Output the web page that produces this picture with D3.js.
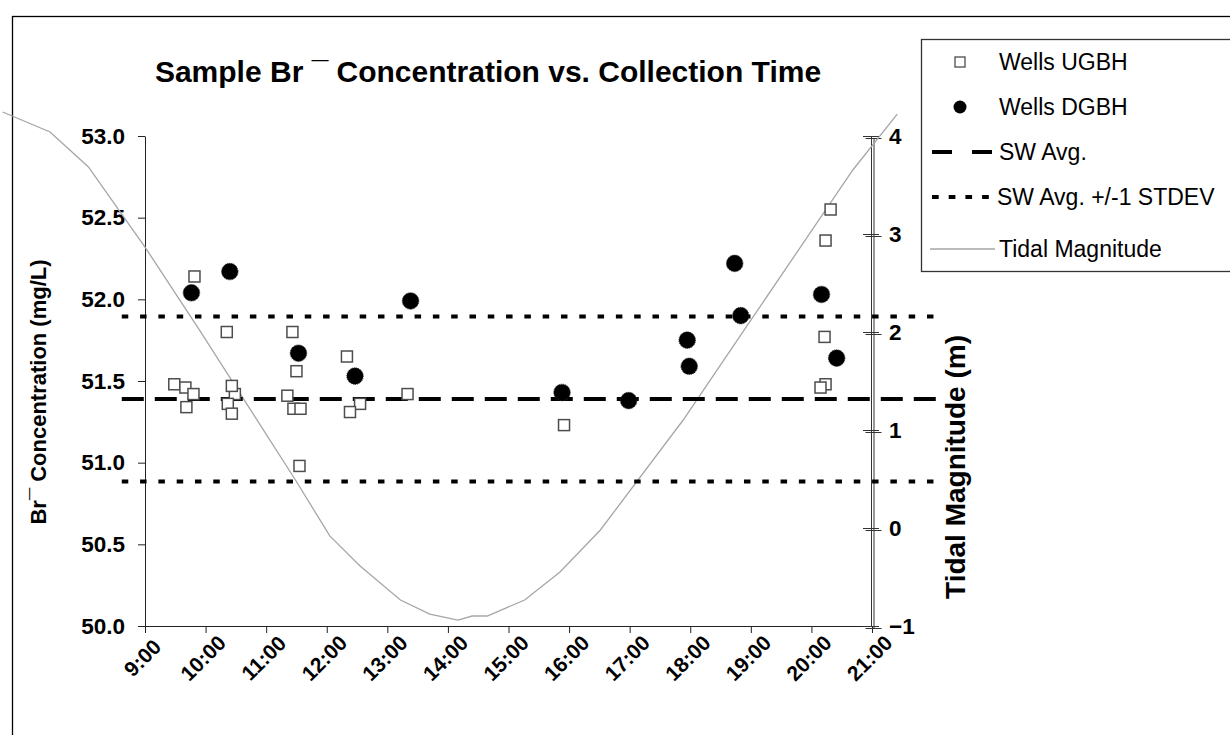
<!DOCTYPE html>
<html><head><meta charset="utf-8">
<script src="https://cdn.jsdelivr.net/npm/d3@7"></script>
<style>
body{margin:0;background:#fff}
svg{display:block}
text{font-family:"Liberation Sans",Arial,Helvetica,sans-serif}
</style>
</head><body>
<svg id="chart" width="1230" height="735"></svg>
<script>
// ---------------- data ----------------
const timeTicks = ["9:00","10:00","11:00","12:00","13:00","14:00","15:00","16:00","17:00","18:00","19:00","20:00","21:00"];
const brTicks = [50.0, 50.5, 51.0, 51.5, 52.0, 52.5, 53.0];
const tideTicks = [-1, 0, 1, 2, 3, 4];

const ugbhTimes  = ["9:29","9:40","9:48","9:41","9:49","10:21","10:29","10:22","10:26","10:26","11:26","11:30","11:21","11:27","11:34","11:33","12:20","12:33","12:23","13:20","15:55","20:19","20:14","20:13","20:14","20:09"];
const ugbhValues = [51.48, 51.46, 51.42, 51.34, 52.14, 51.80, 51.42, 51.36, 51.47, 51.30, 51.80, 51.56, 51.41, 51.33, 51.33, 50.98, 51.65, 51.36, 51.31, 51.42, 51.23, 52.55, 52.36, 51.77, 51.48, 51.46];

const dgbhTimes  = ["9:46","10:24","11:32","12:28","13:23","15:53","16:59","17:57","17:59","18:44","18:50","20:10","20:25"];
const dgbhValues = [52.04, 52.17, 51.67, 51.53, 51.99, 51.43, 51.38, 51.75, 51.59, 52.22, 51.90, 52.03, 51.64];

const swTimes = ["8:37","22:07"];
const swAvgValue = 51.39;
const swUpperValue = 51.895;
const swLowerValue = 50.885;

const tideTimes  = ["6:39","7:26","8:04","8:27","9:00","9:54","10:49","11:29","12:03","12:33","13:13","13:42","14:10","14:24","14:39","15:16","15:51","16:31","17:53","18:59","20:41","21:25"];
const tideValues = [4.245, 4.041, 3.684, 3.347, 2.867, 2.02, 1.133, 0.49, -0.08, -0.388, -0.735, -0.878, -0.939, -0.898, -0.898, -0.735, -0.449, -0.02, 1.102, 2.105, 3.653, 4.224];

const legendLabels = ["Wells UGBH","Wells DGBH","SW Avg.","SW Avg. +/-1 STDEV","Tidal Magnitude"];

// ---------------- helpers ----------------
const toHours = s => { const [h,m] = s.split(":").map(Number); return h + m/60; };
const FONT = '"Liberation Sans",Arial,sans-serif';

const svg = d3.select("#chart");

// scales
const x = d3.scaleLinear().domain([9, 21]).range([145, 872]);
const yL = d3.scaleLinear().domain([50, 53]).range([626, 136]);
const yR = d3.scaleLinear().domain([-1, 4]).range([626, 136]);

// chart border
svg.append("rect").attr("x", 12.5).attr("y", 16.5).attr("width", 1240).attr("height", 740)
  .attr("fill", "none").attr("stroke", "#000").attr("stroke-width", 1.3);

// title
svg.append("text").attr("x", 488).attr("y", 82).attr("text-anchor", "middle")
  .attr("font-size", 30).attr("font-weight", "bold").attr("fill", "#000")
  .text("Sample Br ¯ Concentration vs. Collection Time");

// ---------- axes ----------
const axisColor = "#222";
// left axis
const gL = svg.append("g").attr("transform", "translate(145,0)")
  .call(d3.axisLeft(yL).tickValues(brTicks).tickSize(7).tickSizeOuter(0).tickPadding(13).tickFormat(d3.format(".1f")));
gL.select(".domain").attr("stroke", axisColor);
gL.selectAll(".tick line").attr("stroke", axisColor);
gL.selectAll(".tick text").attr("font-size", 22.5).attr("font-weight", "bold").attr("font-family", FONT).attr("fill", "#000");

// bottom axis
const gB = svg.append("g").attr("transform", "translate(0,626)")
  .call(d3.axisBottom(x).tickValues(timeTicks.map(toHours)).tickSize(7).tickSizeOuter(0)
        .tickFormat((d, i) => timeTicks[i]));
gB.select(".domain").attr("stroke", axisColor);
gB.selectAll(".tick line").attr("stroke", axisColor);
gB.selectAll(".tick text").attr("font-size", 21).attr("font-weight", "bold").attr("font-family", FONT).attr("fill", "#000")
  .attr("text-anchor", "middle").attr("dy", "0.35em").attr("y", 0)
  .attr("transform", "translate(-3,32) rotate(-45)");

// right axis (double-drawn)
[[871, 0], [873.5, 2]].forEach(([tx, ty], k) => {
  const g = svg.append("g").attr("transform", `translate(${tx},${ty})`)
    .call(d3.axisRight(yR).tickValues(tideTicks).tickSize(8).tickSizeOuter(0).tickPadding(10).tickFormat(d3.format("d")));
  g.select(".domain").attr("stroke", "#333").attr("stroke-width", 1);
  g.selectAll(".tick line").attr("x1", -8).attr("x2", 8).attr("stroke", "#333");
  g.selectAll(".tick text").attr("font-size", 22.5).attr("font-weight", "bold").attr("font-family", FONT).attr("fill", "#000")
    .attr("opacity", k === 0 ? 1 : 0);
});

// axis titles
svg.append("text").attr("transform", "translate(46,392) rotate(-90)").attr("text-anchor", "middle")
  .attr("font-size", 22).attr("font-weight", "bold").attr("fill", "#000")
  .text("Br¯ Concentration (mg/L)");
svg.append("text").attr("transform", "translate(965,467) rotate(-90)").attr("text-anchor", "middle")
  .attr("font-size", 28).attr("font-weight", "bold").attr("fill", "#000")
  .text("Tidal Magnitude (m)");

// ---------- tidal line ----------
const tide = tideTimes.map((t, i) => ({ t: toHours(t), v: tideValues[i] }));
svg.append("path").datum(tide)
  .attr("fill", "none").attr("stroke", "#a6a6a6").attr("stroke-width", 1.3)
  .attr("d", d3.line().x(d => x(d.t)).y(d => yR(d.v)));

// ---------- SW lines ----------
const swX = swTimes.map(toHours);
const hline = (val, dash) => svg.append("line")
  .attr("x1", x(swX[0])).attr("x2", x(swX[1])).attr("y1", yL(val)).attr("y2", yL(val))
  .attr("stroke", "#000").attr("stroke-width", 4).attr("stroke-dasharray", dash);
hline(swAvgValue, "22,11");
hline(swUpperValue, "6.5,11.8");
hline(swLowerValue, "6.5,11.8");

// ---------- markers ----------
const ugbh = ugbhTimes.map((t, i) => ({ t: toHours(t), v: ugbhValues[i] }));
const dgbh = dgbhTimes.map((t, i) => ({ t: toHours(t), v: dgbhValues[i] }));
const sq = 11;
svg.append("g").selectAll("rect").data(ugbh).join("rect")
  .attr("x", d => x(d.t) - sq/2).attr("y", d => yL(d.v) - sq/2)
  .attr("width", sq).attr("height", sq)
  .attr("fill", "#fff").attr("stroke", "#4d4d4d").attr("stroke-width", 1.5);
svg.append("g").selectAll("circle").data(dgbh).join("circle")
  .attr("cx", d => x(d.t)).attr("cy", d => yL(d.v)).attr("r", 8.3)
  .attr("fill", "#000").attr("stroke", "#333").attr("stroke-width", 1).attr("stroke-dasharray", "1,1");

// ---------- legend ----------
const lg = svg.append("g");
lg.append("rect").attr("x", 921.5).attr("y", 39.5).attr("width", 340).attr("height", 232)
  .attr("fill", "#fff").attr("stroke", "#333").attr("stroke-width", 1.3);
const ly = [62, 107, 152, 197, 249];
legendLabels.forEach((lab, i) => {
  lg.append("text").attr("x", i === 3 ? 997 : 999).attr("y", ly[i] + 8).attr("font-size", 23).attr("fill", "#000").text(lab);
});
lg.append("rect").attr("x", 955).attr("y", ly[0] - 5).attr("width", 10).attr("height", 10)
  .attr("fill", "#fff").attr("stroke", "#4d4d4d").attr("stroke-width", 1.3);
lg.append("circle").attr("cx", 960).attr("cy", ly[1]).attr("r", 6.5).attr("fill", "#000");
lg.append("line").attr("x1", 932).attr("x2", 992).attr("y1", ly[2]).attr("y2", ly[2])
  .attr("stroke", "#000").attr("stroke-width", 4).attr("stroke-dasharray", "20,20");
lg.append("line").attr("x1", 932).attr("x2", 996).attr("y1", ly[3]).attr("y2", ly[3])
  .attr("stroke", "#000").attr("stroke-width", 4).attr("stroke-dasharray", "6.7,10");
lg.append("line").attr("x1", 930).attr("x2", 995).attr("y1", ly[4]).attr("y2", ly[4])
  .attr("stroke", "#a6a6a6").attr("stroke-width", 1.3);
</script>
</body></html>
